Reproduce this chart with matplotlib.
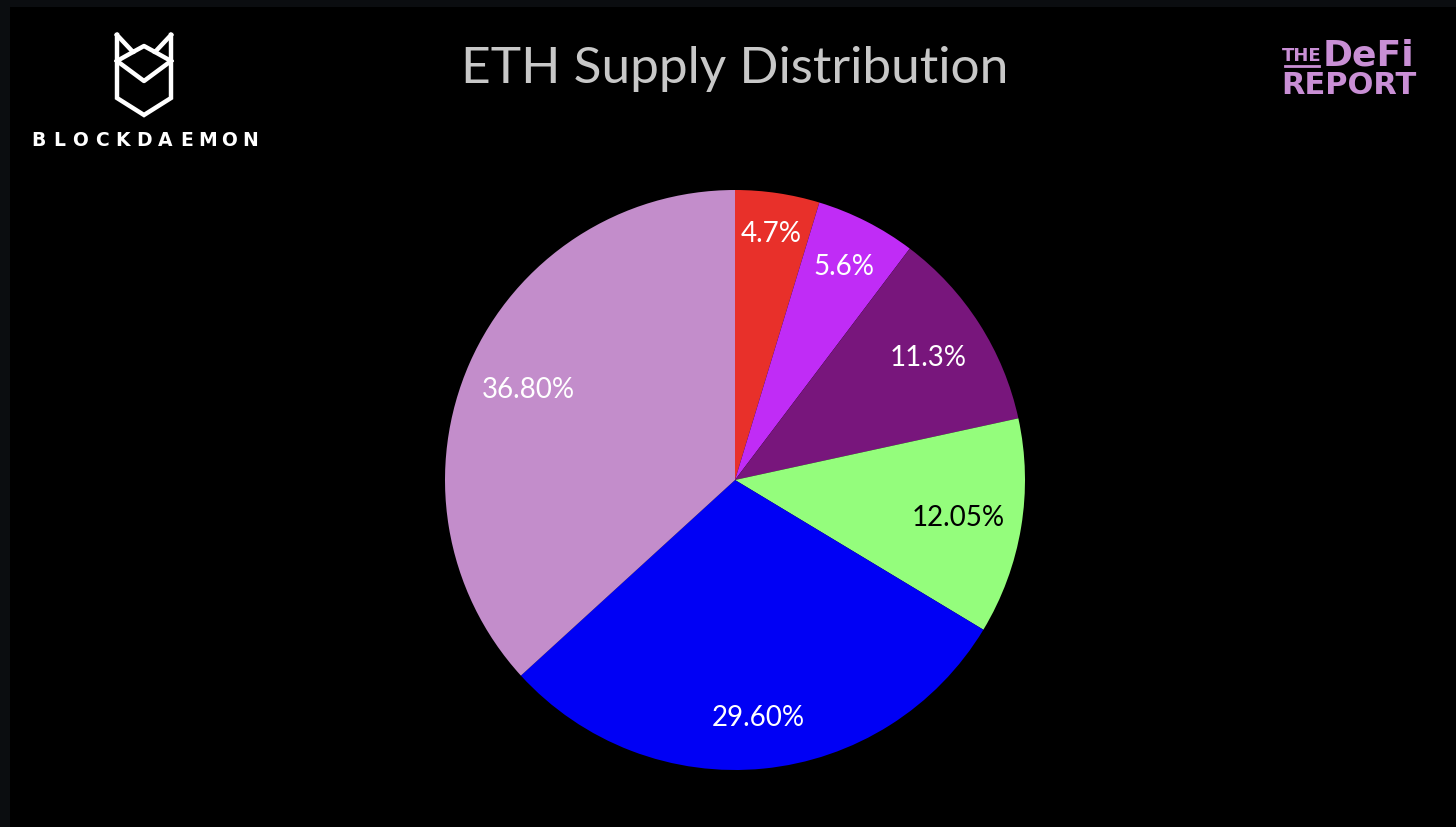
import numpy as np
import matplotlib.pyplot as plt

# ETH supply distribution (share in %), clockwise from 12 o'clock
shares = [4.7, 5.6, 11.3, 12.05, 29.60, 36.80]
pct_labels = ["4.7%", "5.6%", "11.3%", "12.05%", "29.60%", "36.80%"]
colors = ["#e8302a", "#c02cf6", "#78167c", "#94fd7c", "#0000f5", "#c38dcb"]
text_colors = ["white", "white", "white", "black", "white", "white"]
label_r = [0.86, 0.83, 0.79, 0.78, 0.82, 0.78]

W, H = 1456, 828
fig = plt.figure(figsize=(W / 100, H / 100), dpi=100, facecolor="black")

# overlay in pixel coords for border, title and logos
ov = fig.add_axes([0, 0, 1, 1])
ov.set_xlim(0, W)
ov.set_ylim(H, 0)
ov.axis("off")
ov.add_patch(plt.Rectangle((0, 0), W, 8, color="#0b0d10", lw=0))
ov.add_patch(plt.Rectangle((0, 0), 10, H, color="#0b0d10", lw=0))

ov.text(735, 69, "ETH Supply Distribution", fontsize=37, family="Lato",
        color="#c8c8c8", ha="center", va="center")

# Blockdaemon logo
lw = 3.2
shield = [(117, 36), (117, 99), (144, 116), (171, 99), (171, 36)]
ov.plot(*zip(*shield), color="white", lw=lw, solid_joinstyle="miter")
ov.plot([117, 133, 144, 155, 171], [36, 53, 47, 53, 36], color="white", lw=lw)
ov.plot([117, 144, 171], [62, 82, 62], color="white", lw=lw)
ov.plot([133, 117], [53, 62], color="white", lw=lw)
ov.plot([155, 171], [53, 62], color="white", lw=lw)
for i, ch in enumerate("BLOCKDAEMON"):
    ov.text(38 + i * 21.2, 141, ch, fontsize=13.5, family="DejaVu Sans",
            weight="bold", color="white", ha="center", va="center")

# The DeFi Report logo
logo_c = "#c98fd5"
ov.text(1302, 56, "THE", fontsize=13, family="DejaVu Sans", weight="bold",
        color=logo_c, ha="center", va="center")
ov.plot([1285, 1319], [67, 67], color=logo_c, lw=2)
ov.text(1368, 56, "DeFi", fontsize=26, family="DejaVu Sans", weight="bold",
        color=logo_c, ha="center", va="center")
ov.text(1349, 86, "REPORT", fontsize=22, family="DejaVu Sans", weight="bold",
        color=logo_c, ha="center", va="center")

# pie
cx, cy, r = 735, 481, 290
ax = fig.add_axes([(cx - r) / W, 1 - (cy + r) / H, 2 * r / W, 2 * r / H])
ax.set_facecolor("none")
wedges, _ = ax.pie(shares, colors=colors, startangle=90, counterclock=False,
                   radius=1, wedgeprops=dict(linewidth=0))
ax.set_xlim(-1, 1)
ax.set_ylim(-1, 1)
ax.set_aspect("equal")
ax.axis("off")

for w, lab, tc, d in zip(wedges, pct_labels, text_colors, label_r):
    ang = np.deg2rad((w.theta1 + w.theta2) / 2)
    ax.text(d * np.cos(ang), d * np.sin(ang), lab, fontsize=20, family="Lato",
            color=tc, ha="center", va="center")

fig.savefig("out.png", dpi=100, facecolor="black")
